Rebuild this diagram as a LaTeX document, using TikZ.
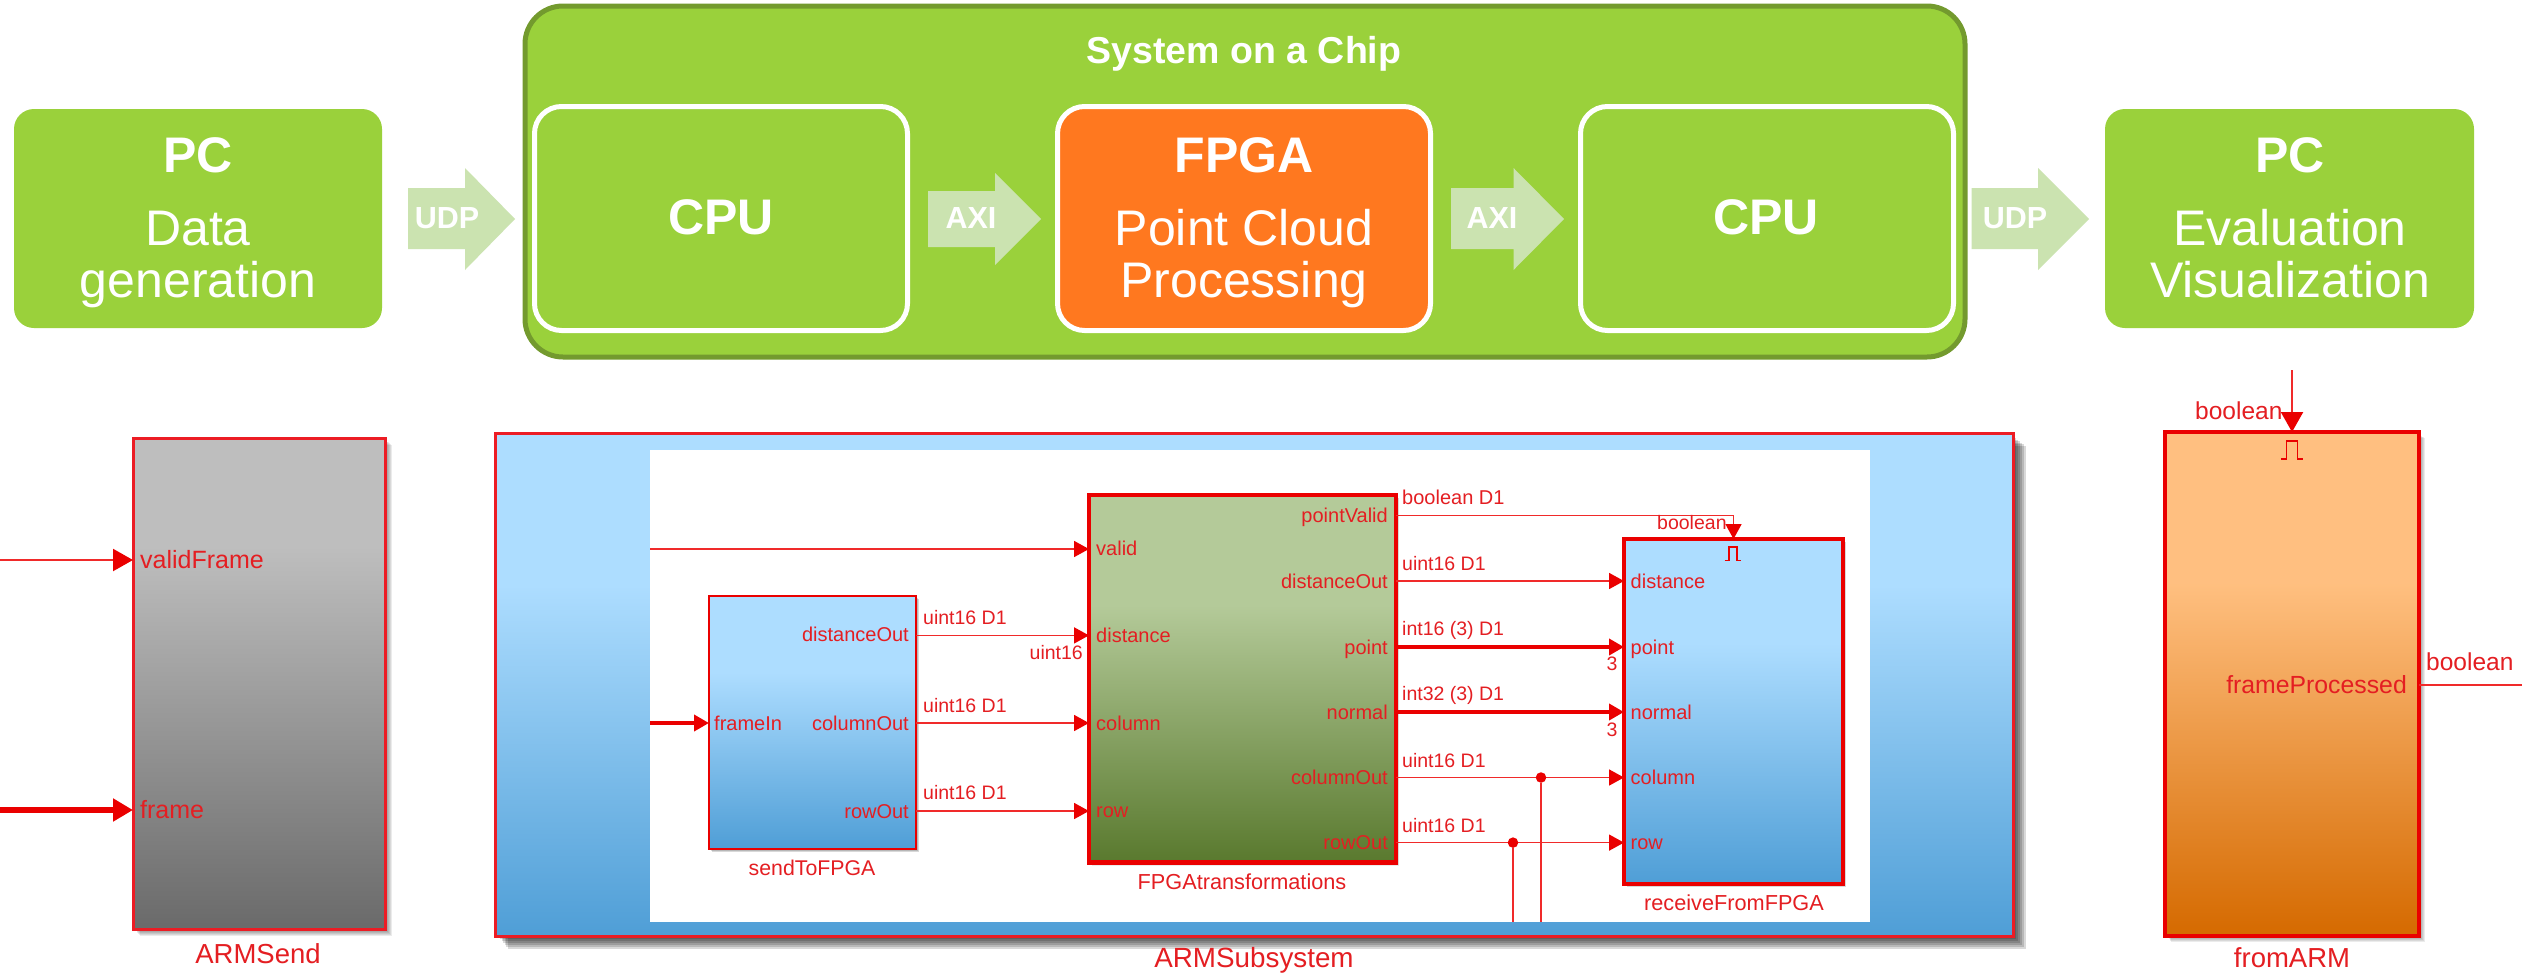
\documentclass[tikz,border=0pt]{standalone}
\usepackage{fontspec}
\setmainfont{Liberation Sans}
\usetikzlibrary{arrows.meta}
\definecolor{socgreen}{HTML}{9AD13B}
\definecolor{socedge}{HTML}{739A2E}
\definecolor{fpgaorange}{HTML}{FF781F}
\definecolor{udpfill}{HTML}{CBE3B0}
\definecolor{sigred}{HTML}{EA0000}
\definecolor{thinred}{HTML}{F02A2A}
\definecolor{txtred}{HTML}{E41E22}
\definecolor{edgered}{HTML}{EC1C24}
\pgfdeclareverticalshading{graygrad}{100bp}{rgb(0bp)=(0.416,0.416,0.416); rgb(25bp)=(0.416,0.416,0.416); rgb(64bp)=(0.745,0.745,0.745); rgb(100bp)=(0.745,0.745,0.745)}
\pgfdeclareverticalshading{bluegrad}{100bp}{rgb(0bp)=(0.31,0.62,0.84); rgb(25bp)=(0.31,0.62,0.84); rgb(60bp)=(0.68,0.867,1); rgb(100bp)=(0.68,0.867,1)}
\pgfdeclareverticalshading{greengrad}{100bp}{rgb(0bp)=(0.35,0.475,0.18); rgb(25bp)=(0.35,0.475,0.18); rgb(60bp)=(0.706,0.792,0.6); rgb(100bp)=(0.706,0.792,0.6)}
\pgfdeclareverticalshading{orangegrad}{100bp}{rgb(0bp)=(0.835,0.415,0); rgb(25bp)=(0.835,0.415,0); rgb(60bp)=(1,0.75,0.5); rgb(100bp)=(1,0.75,0.5)}
\newcommand{\fsz}[1]{\fontsize{#1}{#1}\selectfont}
% soft shadow: x1 y1 x2 y2 offset opacity
\newcommand{\softshadow}[6]{%
  \foreach \k in {0,1,...,5}{%
    \fill[black,opacity=#6]
      ({#1+#5*0.4+\k*#5*0.12},{#2+#5*0.4+\k*#5*0.12}) rectangle ({#3+#5*0.2+\k*#5*0.16},{#4+#5*0.2+\k*#5*0.16});}}
\newcommand{\pulse}[3]{% cx, top, scale
  \draw[sigred,line width=1.6pt,line join=miter,shift={(#1,#2)},x=#3pt,y=-#3pt]
    (-8.3,13.5) -- (-4,13.5) -- (-4,0) -- (4,0) -- (4,13.5) -- (8.3,13.5);}
\tikzset{
  x=1pt,y=-1pt,
  box/.style={inner sep=0pt,outer sep=0pt,anchor=north west},
  pcbox/.style={box,fill=socgreen,rounded corners=20pt},
  socbox/.style={box,fill=socgreen,draw=socedge,line width=5pt,rounded corners=38pt},
  cpubox/.style={box,fill=socgreen,draw=white,line width=5pt,rounded corners=27pt},
  fpgabox/.style={cpubox,fill=fpgaorange},
  toptitle/.style={inner sep=0pt,anchor=base,text=white,font=\fsz{50}\bfseries},
  topsub/.style={inner sep=0pt,anchor=base,text=white,font=\fsz{50}},
  bustxt/.style={inner sep=0pt,anchor=base,text=white,font=\fsz{30.5}\bfseries},
  busarrow/.style={fill=udpfill},
  blockA/.style={box,draw=edgered,line width=3pt},
  blockB/.style={box,draw=sigred,line width=4.5pt},
  blockC/.style={box,draw=sigred,line width=2.2pt},
  portL/.style={inner sep=0pt,anchor=base west,text=txtred,font=\fsz{#1}},
  portL/.default=20,
  portR/.style={inner sep=0pt,anchor=base east,text=txtred,font=\fsz{#1}},
  portR/.default=20,
  blockname/.style={inner sep=0pt,anchor=base,text=txtred,font=\fsz{#1}},
  sigthin/.style={draw=thinred,line width=1.7pt},
  sigsm/.style={sigthin,-{Triangle[length=15pt,width=16pt,color=sigred]}},
  sigthick/.style={draw=sigred,line width=4pt,-{Triangle[length=15pt,width=16pt,color=sigred]}},
  sigbig/.style={sigthin,line width=2.2pt,-{Triangle[length=20pt,width=22pt,color=sigred]}},
  sigbigthick/.style={draw=sigred,line width=6pt,-{Triangle[length=20pt,width=22pt,color=sigred]}},
  jdot/.style={circle,fill=sigred,inner sep=0pt,minimum size=10.5pt},
}
\begin{document}
\begin{tikzpicture}
\useasboundingbox (0,0) rectangle (2522,975);
\fill[white] (0,0) rectangle (2522,975);

% ---------- top row ----------
\node[pcbox,minimum width=368pt,minimum height=219pt] (pcL) at (14,109) {};
\node[toptitle] (pcLa) at (198,172) {PC};
\node[topsub] (pcLb) at (198,245) {Data};
\node[topsub] (pcLc) at (198,297) {generation};

\node[socbox,minimum width=1440pt,minimum height=351pt] (soc) at (525,6) {};
\node[inner sep=0pt,anchor=base,text=white,font=\fsz{37.5}\bfseries] (soct) at (1244,63) {System on a Chip};

\node[cpubox,minimum width=373pt,minimum height=224pt] (cpuA) at (534.5,106.5) {};
\node[toptitle] (cpuAt) at (721,234) {CPU};
\node[fpgabox,minimum width=373pt,minimum height=224pt] (fpga) at (1057.5,106.5) {};
\node[toptitle] (fpgat) at (1244,172) {FPGA};
\node[topsub] (fpgab) at (1244,245) {Point Cloud};
\node[topsub] (fpgac) at (1244,297) {Processing};
\node[cpubox,minimum width=373pt,minimum height=224pt] (cpuB) at (1580.5,106.5) {};
\node[toptitle] (cpuBt) at (1766,234) {CPU};

\node[pcbox,minimum width=369pt,minimum height=219pt] (pcR) at (2105,109) {};
\node[toptitle] (pcRa) at (2290,172) {PC};
\node[topsub] (pcRb) at (2290,245) {Evaluation};
\node[topsub] (pcRc) at (2290,297) {Visualization};

\fill[busarrow] (408,188) -- (465,188) -- (465,168) -- (515,219) -- (465,270) -- (465,249) -- (408,249) -- cycle;
\node[bustxt] (udpA) at (447,228) {UDP};
\fill[busarrow] (928,191) -- (995,191) -- (995,173) -- (1041,219) -- (995,265) -- (995,247) -- (928,247) -- cycle;
\node[bustxt] (axiA) at (971,228) {AXI};
\fill[busarrow] (1451,188) -- (1513.5,188) -- (1513.5,168) -- (1564,219) -- (1513.5,270) -- (1513.5,249) -- (1451,249) -- cycle;
\node[bustxt] (axiB) at (1492,228) {AXI};
\fill[busarrow] (1971.5,188) -- (2038,188) -- (2038,168) -- (2089,219) -- (2038,270) -- (2038,249) -- (1971.5,249) -- cycle;
\node[bustxt] (udpB) at (2015,228) {UDP};

% ---------- ARMSend ----------
\softshadow{133}{438}{385}{929}{7}{0.08}
\node[blockA,shading=graygrad,minimum width=252pt,minimum height=491pt] (armsend) at (133,438) {};
\coordinate (inV) at (0,560);
\coordinate (inF) at (0,810);
\draw[sigbig] (inV) -- (armsend.west |- inV);
\draw[sigbigthick] (inF) -- (armsend.west |- inF);
\node[portL=25] (pv) at (140,568) {validFrame};
\node[portL=25] (pf) at (140,818) {frame};
\node[blockname=27.5] (armsendn) at (258,963) {ARMSend};

% ---------- ARMSubsystem ----------
\softshadow{495}{433}{2013}{936}{13}{0.15}
\node[blockA,shading=bluegrad,minimum width=1518pt,minimum height=503pt] (armsub) at (495,433) {};
\node[box,fill=white,minimum width=1220pt,minimum height=472.5pt] (canvas) at (650,449.5) {};
\node[blockname=27.8] (armsubn) at (1254,967) {ARMSubsystem};

% sendToFPGA
\softshadow{709}{596}{916}{849}{3}{0.08}
\node[blockC,shading=bluegrad,minimum width=207pt,minimum height=253pt] (send) at (709,596) {};
\node[blockname=21.3] (sendn) at (812,875) {sendToFPGA};
\node[portL] (sin) at (714,730) {frameIn};
\node[portR] (sa) at (909,641.5) {distanceOut};
\node[portR] (sb) at (909,730) {columnOut};
\node[portR] (sc) at (909,818) {rowOut};

% FPGAtransformations
\softshadow{1089}{495}{1396}{862.5}{3}{0.08}
\node[blockB,shading=greengrad,minimum width=307pt,minimum height=367.5pt] (fpgat2) at (1089,495) {};
\node[blockname=21.7] (fpgatn) at (1242,889) {FPGAtransformations};
\node[portL] (fa) at (1096,555) {valid};
\node[portL] (fb) at (1096,642) {distance};
\node[portL] (fc) at (1096,730) {column};
\node[portL] (fd) at (1096,817) {row};
\node[portR] (fe) at (1388,522) {pointValid};
\node[portR] (ff) at (1388,588) {distanceOut};
\node[portR] (fg) at (1388,654) {point};
\node[portR] (fh) at (1388,719) {normal};
\node[portR] (fi) at (1388,784.5) {columnOut};
\node[portR] (fj) at (1388,849.5) {rowOut};

% receiveFromFPGA
\softshadow{1624}{539}{1843}{884}{3}{0.08}
\node[blockB,shading=bluegrad,minimum width=219pt,minimum height=345pt] (recv) at (1624,539) {};
\node[blockname=21.7] (recvn) at (1734,910) {receiveFromFPGA};
\node[portL] (ra) at (1630.5,588) {distance};
\node[portL] (rb) at (1630.5,654) {point};
\node[portL] (rc) at (1630.5,719) {normal};
\node[portL] (rd) at (1630.5,784.5) {column};
\node[portL] (re) at (1630.5,849.5) {row};
\pulse{1733}{547}{1}

% coordinates of the signal rows
\coordinate (yV) at (0,549);
\coordinate (yD) at (0,635.4);
\coordinate (yC) at (0,723);
\coordinate (yR) at (0,811);
\coordinate (oV) at (0,515.6);
\coordinate (oD) at (0,581);
\coordinate (oP) at (0,647);
\coordinate (oN) at (0,712);
\coordinate (oC) at (0,777.5);
\coordinate (oR) at (0,842.6);

% signals
\draw[sigsm] (canvas.west |- yV) -- (fpgat2.west |- yV);
\draw[sigthick] (canvas.west |- yC) -- (send.west |- yC);
\draw[sigsm] (send.east |- yD) -- (fpgat2.west |- yD);
\draw[sigsm] (send.east |- yC) -- (fpgat2.west |- yC);
\draw[sigsm] (send.east |- yR) -- (fpgat2.west |- yR);
\node[portL=19.5] (la) at (923,624.5) {uint16 D1};
\node[portL=19.5] (lb) at (923,712) {uint16 D1};
\node[portL=19.5] (lc) at (923,799) {uint16 D1};
\node[portR=19.5] (ld) at (1083,659) {uint16};

\draw[sigsm] (fpgat2.east |- oV) -| (recv.north);
\draw[sigsm] (fpgat2.east |- oD) -- (recv.west |- oD);
\draw[sigthick] (fpgat2.east |- oP) -- (recv.west |- oP);
\draw[sigthick] (fpgat2.east |- oN) -- (recv.west |- oN);
\draw[sigsm] (fpgat2.east |- oC) -- (recv.west |- oC);
\draw[sigsm] (fpgat2.east |- oR) -- (recv.west |- oR);

\node[jdot] (j1) at (1541,777.5) {};
\node[jdot] (j2) at (1513,842.6) {};
\draw[sigthin] (j1) -- (j1 |- canvas.south);
\draw[sigthin] (j2) -- (j2 |- canvas.south);

\node[portL=20] (le) at (1402,504) {boolean D1};
\node[portL=19.5] (lf) at (1402,570) {uint16 D1};
\node[portL=19.5] (lg) at (1402,635) {int16 (3) D1};
\node[portL=19.5] (lh) at (1402,700) {int32 (3) D1};
\node[portL=19.5] (li) at (1402,767) {uint16 D1};
\node[portL=19.5] (lj) at (1402,832) {uint16 D1};
\node[portL=19.5] (lk) at (1657,529) {boolean};
\node[blockname=19.5] (n3a) at (1612,670) {3};
\node[blockname=19.5] (n3b) at (1612,736) {3};

% ---------- fromARM ----------
\softshadow{2165}{432}{2419}{936}{6}{0.08}
\node[blockB,shading=orangegrad,minimum width=254pt,minimum height=504pt] (fromarm) at (2165,432) {};
\node[blockname=27.5] (fromarmn) at (2292,967.5) {fromARM};
\coordinate (clkIn) at (2292,370);
\draw[sigbig] (clkIn) -- (fromarm.north -| clkIn);
\coordinate (outB) at (2522,685);
\draw[sigthin] (fromarm.east |- outB) -- (outB);
\node[portL=24.5] (lm) at (2195,419) {boolean};
\node[portL=24.5] (ln) at (2426,670) {boolean};
\node[portR=24.8] (lo) at (2407,693.5) {frameProcessed};
\pulse{2292}{441}{1.35}
\end{tikzpicture}
\end{document}
